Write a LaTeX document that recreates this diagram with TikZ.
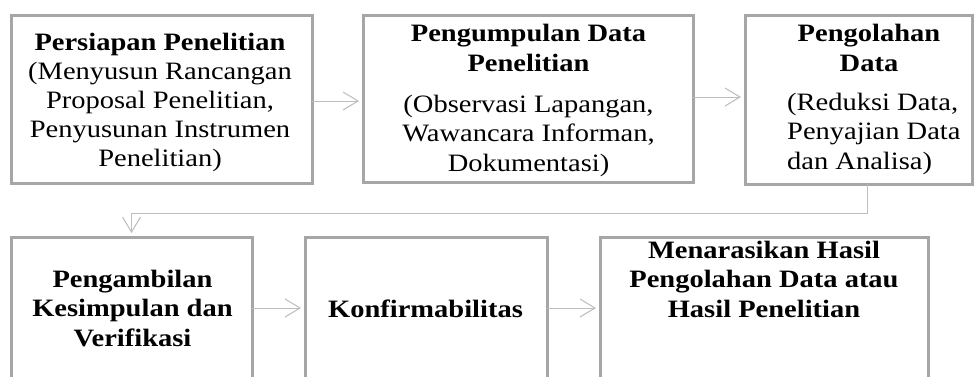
\documentclass[tikz,border=0pt]{standalone}
\usepackage{fontspec}
\setmainfont{Liberation Serif}[FakeStretch=1.14]
\usetikzlibrary{arrows.meta}
\definecolor{boxgray}{HTML}{A6A6A6}
\definecolor{arrgray}{HTML}{BDBDBD}
\begin{document}
\begin{tikzpicture}[x=1pt,y=-1pt,
  box/.style={draw=boxgray, line width=3pt, fill=white, inner sep=0pt, outer sep=0pt, anchor=north west},
  title/.style={font=\fontsize{25}{29.5}\selectfont\bfseries, align=center, anchor=base, inner sep=0pt},
  body/.style={font=\fontsize{25}{29.5}\selectfont, align=center, anchor=base, inner sep=0pt},
  arr/.style={draw=arrgray, line width=1pt, -{Straight Barb[length=15pt,width=18pt]}, shorten >=4pt}]
\clip (0,0) rectangle (975,376);
\fill[white] (0,0) rectangle (975,376);
% boxes
\node[box, minimum width=301pt, minimum height=168pt] (b1) at (11,15) {};
\node[box, minimum width=330pt, minimum height=167pt] (b2) at (363,15) {};
\node[box, minimum width=227pt, minimum height=169pt] (b3) at (745,15) {};
\node[box, minimum width=241pt, minimum height=165pt] (b4) at (11,237) {};
\node[box, minimum width=242pt, minimum height=165pt] (b5) at (305,237) {};
\node[box, minimum width=328pt, minimum height=165pt] (b6) at (600,237) {};
% texts (anchor = baseline of the last line)
\node[title] (t1) at (160,50) {Persiapan Penelitian};
\node[body, font=\fontsize{25}{29}\selectfont] (d1) at (160,166) {(Menyusun Rancangan\\Proposal Penelitian,\\Penyusunan Instrumen\\Penelitian)};
\node[title] (t2) at (528.5,71) {Pengumpulan Data\\Penelitian};
\node[body] (d2) at (528.5,171) {(Observasi Lapangan,\\Wawancara Informan,\\Dokumentasi)};
\node[title] (t3) at (869,71) {Pengolahan\\Data};
\node[body, align=left, anchor=base west] (d3) at (787,169) {(Reduksi Data,\\Penyajian Data\\dan Analisa)};
\node[title] (t4) at (132.5,346) {Pengambilan\\Kesimpulan dan\\Verifikasi};
\node[title] (t5) at (425.5,317) {Konfirmabilitas};
\node[title] (t6) at (764,317) {Menarasikan Hasil\\Pengolahan Data atau\\Hasil Penelitian};
% connectors
\draw[arr] (b1.east |- 0,101) -- (b2.west |- 0,101);
\draw[arr] (b2.east |- 0,97) -- (b3.west |- 0,97);
\draw[arr] ([xshift=8.5pt]b3.south) -- ++(0,29) -| (b4.north);
\draw[arr] (b4.east |- 0,308) -- (b5.west |- 0,308);
\draw[arr] (b5.east |- 0,308) -- (b6.west |- 0,308);
\end{tikzpicture}
\end{document}
